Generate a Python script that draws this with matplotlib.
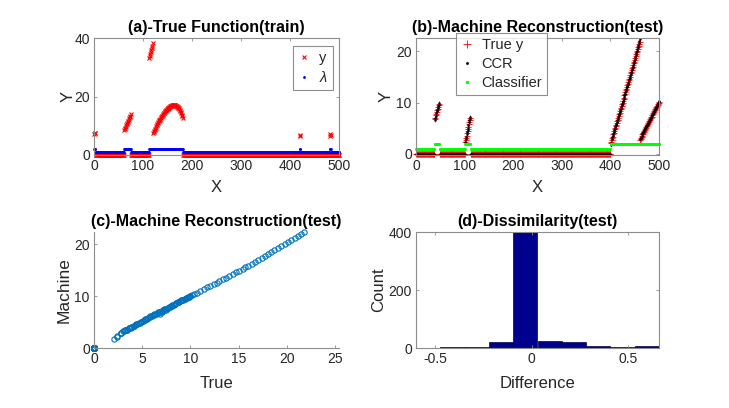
import matplotlib
matplotlib.use('Agg')
import matplotlib.pyplot as plt
import numpy as np

plt.rcParams['font.family'] = ['Liberation Sans Narrow', 'Liberation Sans', 'DejaVu Sans']
plt.rcParams['axes.unicode_minus'] = False
plt.rcParams['mathtext.fontset'] = 'custom'
plt.rcParams['mathtext.it'] = 'Liberation Sans:italic'

# ---- (a) training data: x = 1..500 ----
train_y_parts = [
    [7.2, 7.6, 7.4],
    [0.0] * 58,
    [8.5, 8.9, 9.3, 9.7, 10.1, 10.5, 10.9, 11.3, 11.7, 12.1, 12.5, 12.9, 13.4, 13.9],
    [0.0] * 37,
    [33.0, 33.7, 34.5, 35.2, 35.9, 36.7, 37.4, 38.2],
    [7.4, 7.8, 8.2, 8.6, 9.0, 9.4, 9.8, 10.2, 10.6, 10.9,
     11.2, 11.5, 11.8, 12.1, 12.4, 12.7, 13.0, 13.2, 13.5, 13.7,
     14.0, 14.2, 14.5, 14.7, 14.9, 15.1, 15.3, 15.5, 15.7, 15.8,
     16.0, 16.1, 16.2, 16.4, 16.5, 16.6, 16.7, 16.8, 16.9, 17.0,
     17.0, 17.1, 17.1, 17.1, 17.0, 17.0, 16.9, 16.8, 16.7, 16.5,
     16.3, 16.1, 15.9, 15.6, 15.3, 15.0, 14.6, 14.2, 13.8, 13.3, 12.8],
    [0.0] * 238,
    [6.5, 6.9],
    [0.0] * 59,
    [6.4, 7.1, 6.8],
    [0.0] * 17,
]
train_lambda_runs = [(3, 2), (58, 1), (14, 2), (37, 1), (69, 2), (238, 1),
                     (2, 2), (59, 1), (3, 2), (17, 1)]

# ---- (b) test data: x = 1..500 ----
test_seg1_true = [6.8, 7.1, 7.5, 7.8, 8.1, 8.5, 8.8, 9.1, 9.5, 9.8]
test_seg1_ccr = [6.6, 7.0, 7.4, 7.9, 8.3, 8.6, 8.9, 9.3, 9.6, 9.9]
test_seg2_true = [2.4, 2.8, 3.2, 3.6, 4.1, 4.5, 4.9, 5.3, 5.8, 6.2, 6.6, 7.0]
test_seg2_ccr = [2.3, 2.9, 3.4, 3.8, 4.2, 4.7, 5.1, 5.6, 6.2, 6.6, 6.9, 7.2]
test_seg3_true = [2.1, 2.4, 2.8, 3.1, 3.4, 3.8, 4.1, 4.4, 4.8, 5.1,
                  5.4, 5.7, 6.1, 6.4, 6.7, 7.1, 7.4, 7.7, 8.0, 8.4,
                  8.7, 9.0, 9.4, 9.7, 10.0, 10.4, 10.7, 11.0, 11.4, 11.7,
                  12.0, 12.4, 12.7, 13.0, 13.4, 13.7, 14.0, 14.4, 14.7, 15.0,
                  15.4, 15.7, 16.0, 16.4, 16.7, 17.0, 17.4, 17.7, 18.0, 18.4,
                  18.7, 19.1, 19.4, 19.8, 20.1, 20.4, 20.8, 21.1, 21.5, 21.8]
test_seg3_ccr = [1.7, 2.2, 2.9, 3.3, 3.5, 3.9, 4.2, 4.6, 4.9, 5.2,
                 5.6, 5.9, 6.3, 6.6, 6.9, 7.2, 7.5, 7.8, 8.2, 8.5,
                 8.8, 9.2, 9.5, 9.8, 10.1, 10.4, 10.7, 11.1, 11.4, 11.7,
                 12.0, 12.3, 12.6, 13.0, 13.3, 13.6, 13.9, 14.3, 14.6, 14.9,
                 15.2, 15.6, 15.9, 16.3, 16.6, 17.0, 17.4, 17.8, 18.1, 18.5,
                 18.9, 19.3, 19.7, 20.1, 20.5, 20.8, 21.3, 21.6, 22.0, 22.4]
test_seg4_true = [2.8, 3.0, 3.2, 3.4, 3.6, 3.8, 3.9, 4.1, 4.3, 4.5,
                  4.7, 4.9, 5.1, 5.3, 5.5, 5.6, 5.8, 6.0, 6.2, 6.4,
                  6.6, 6.8, 7.0, 7.2, 7.3, 7.5, 7.7, 7.9, 8.1, 8.3,
                  8.5, 8.7, 8.9, 9.1, 9.2, 9.4, 9.6, 9.8, 10.0, 10.2]
test_seg4_ccr = [2.9, 3.2, 3.4, 3.5, 3.8, 4.0, 4.1, 4.3, 4.5, 4.7,
                 4.9, 5.1, 5.2, 5.4, 5.6, 5.7, 5.9, 6.1, 6.3, 6.5,
                 6.7, 6.9, 7.1, 7.3, 7.5, 7.6, 7.8, 8.0, 8.2, 8.4,
                 8.6, 8.8, 9.0, 9.2, 9.3, 9.5, 9.7, 9.9, 10.1, 10.3]
test_zero_runs = [38, 52, 288]
classifier_runs = [(38, 1), (10, 2), (52, 1), (12, 2), (288, 1), (100, 2)]

# ---- (d) histogram of differences ----
hist_edges = [-0.6, -0.474, -0.348, -0.222, -0.096, 0.030, 0.156, 0.282, 0.408, 0.534, 0.66]
hist_counts = [1, 2, 3, 21, 413, 25, 22, 7, 5, 7]

# ---- assemble ----
train_y = np.concatenate(train_y_parts)
train_x = np.arange(1, len(train_y) + 1)
train_lam = np.repeat([v for _, v in train_lambda_runs], [n for n, _ in train_lambda_runs])

z1, z2, z3 = [[0.0] * n for n in test_zero_runs]
test_true = np.concatenate([z1, test_seg1_true, z2, test_seg2_true, z3, test_seg3_true, test_seg4_true])
test_ccr = np.concatenate([z1, test_seg1_ccr, z2, test_seg2_ccr, z3, test_seg3_ccr, test_seg4_ccr])
test_x = np.arange(1, len(test_true) + 1)
test_cls = np.repeat([v for _, v in classifier_runs], [n for n, _ in classifier_runs])

TXT = (0.15, 0.15, 0.15)
FRAME = '0.55'
MBLUE = (0, 0.447, 0.741)


def style(ax, box=True):
    for s in ax.spines.values():
        s.set_color(FRAME)
        s.set_linewidth(0.8)
    if not box:
        ax.spines['top'].set_visible(False)
        ax.spines['right'].set_visible(False)
    ax.tick_params(direction='in', length=2.5, width=0.6, color=FRAME, labelsize=10,
                   labelcolor=TXT, top=box, right=box, pad=3)


fig = plt.figure(figsize=(7.29, 4.08), dpi=100)
W, H = 729.0, 408.0


def add_axes(l, t, r, b):
    return fig.add_axes([l / W, 1 - b / H, (r - l) / W, (b - t) / H])


def legend(ax, **kw):
    leg = ax.legend(fontsize=10.5, frameon=True, fancybox=False, edgecolor='0.45',
                    handlelength=0.8, handletextpad=0.6, borderpad=0.35,
                    labelspacing=0.35, borderaxespad=0, **kw)
    leg.get_frame().set_linewidth(0.8)
    for t in leg.get_texts():
        t.set_color(TXT)
    return leg


# (a)
ax = add_axes(94, 38, 339, 155)
ax.plot(train_x, train_y, 'x', color='r', ms=3.2, mew=0.8, label='y', clip_on=False)
ax.plot(train_x, train_lam, '.', color='b', ms=2, label='$\\lambda$', clip_on=False)
ax.set_xlim(0, 500)
ax.set_ylim(0, 40)
ax.set_xticks([0, 100, 200, 300, 400, 500])
ax.set_yticks([0, 20, 40])
style(ax)
ax.set_title('(a)-True Function(train)', fontsize=11.5, fontweight='bold', pad=4)
ax.set_xlabel('X', fontsize=12, color=TXT, labelpad=5)
ax.set_ylabel('Y', fontsize=12, color=TXT, labelpad=-1)
legend(ax, loc='upper right', bbox_to_anchor=(0.975, 0.935))

# (b)
ax = add_axes(416, 38, 659, 155)
ax.plot(test_x, test_true, '+', color='r', ms=4.5, mew=0.6, label='True y', clip_on=False)
ax.plot(test_x, test_ccr, '.', color='k', ms=1.6, label='CCR', clip_on=False)
ax.plot(test_x, test_cls, '.', color=(0, 1, 0), ms=2.2, label='Classifier', clip_on=False)
ax.set_xlim(0, 500)
ax.set_ylim(-0.2, 22.6)
ax.set_xticks([0, 100, 200, 300, 400, 500])
ax.set_yticks([0, 10, 20])
style(ax)
ax.set_title('(b)-Machine Reconstruction(test)', fontsize=11.5, fontweight='bold', pad=4)
ax.set_xlabel('X', fontsize=12, color=TXT, labelpad=5)
ax.set_ylabel('Y', fontsize=12, color=TXT, labelpad=2)
legend(ax, loc='upper left', bbox_to_anchor=(0.165, 1.045), markerscale=1.3)

# (c)
ax = add_axes(94, 232, 339, 348)
ax.plot(test_true, test_ccr, 'o', mfc='none', mec=MBLUE, ms=3.8, mew=0.8, clip_on=False)
ax.set_xlim(0, 25.4)
ax.set_ylim(0, 22.4)
ax.set_xticks([0, 5, 10, 15, 20, 25])
ax.set_yticks([0, 10, 20])
style(ax, box=False)
ax.set_title('(c)-Machine Reconstruction(test)', fontsize=11.5, fontweight='bold', pad=4)
ax.set_xlabel('True', fontsize=12, color=TXT, labelpad=7)
ax.set_ylabel('Machine', fontsize=12.5, color=TXT, labelpad=2)

# (d)
ax = add_axes(416, 232, 659, 348)
ax.bar(hist_edges[:-1], hist_counts, width=np.diff(hist_edges), align='edge',
       color=(0, 0, 0.5625), edgecolor=(0, 0, 0.3), linewidth=0.5)
ax.set_xlim(-0.6, 0.66)
ax.set_ylim(0, 400)
ax.set_xticks([-0.5, 0, 0.5])
ax.set_xticklabels(['-0.5', '0', '0.5'])
ax.set_yticks([0, 200, 400])
style(ax)
ax.set_title('(d)-Dissimilarity(test)', fontsize=11.5, fontweight='bold', pad=4)
ax.set_xlabel('Difference', fontsize=12, color=TXT, labelpad=7)
ax.set_ylabel('Count', fontsize=12, color=TXT, labelpad=2)

fig.savefig('out.png', dpi=100)
